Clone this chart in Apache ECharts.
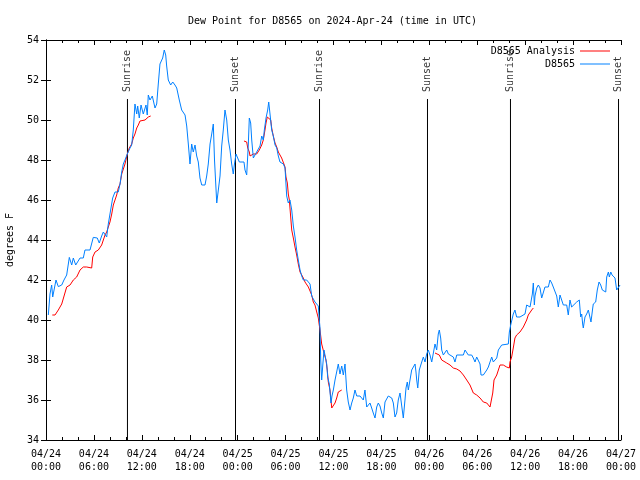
<!DOCTYPE html>
<html><head><meta charset="utf-8">
<script src="https://cdn.jsdelivr.net/npm/echarts@6/dist/echarts.min.js"></script>
<style>html,body{margin:0;padding:0;background:#fff}#c{width:640px;height:480px}</style>
</head><body><div id="c"></div>
<script>
// x axis: hours since 2024-04-24 00:00 UTC
const xTickLabels = ['04/24\n00:00','04/24\n06:00','04/24\n12:00','04/24\n18:00',
  '04/25\n00:00','04/25\n06:00','04/25\n12:00','04/25\n18:00',
  '04/26\n00:00','04/26\n06:00','04/26\n12:00','04/26\n18:00','04/27\n00:00'];

const sunHours = [10.2, 23.73, 34.25, 47.77, 58.16, 71.69];
const sunLabels = ['Sunrise','Sunset','Sunrise','Sunset','Sunrise','Sunset'];

const blueHours = [
 0.29,0.50,0.71,0.84,1.25,1.54,1.97,2.25,2.59,2.92,
 3.22,3.42,3.72,4.26,4.67,4.88,5.51,5.92,6.42,6.67,
 6.97,7.18,7.60,7.80,8.01,8.35,8.64,9.05,9.27,9.48,
 9.68,9.89,10.18,10.52,10.73,10.93,11.14,11.36,11.48,11.68,
 11.90,12.18,12.52,12.68,12.81,13.02,13.31,13.65,13.86,14.06,
 14.27,14.61,14.81,14.99,15.11,15.31,15.61,15.87,16.15,16.37,
 16.69,16.99,17.41,17.62,17.82,18.03,18.24,18.44,18.66,18.87,
 19.07,19.28,19.50,19.91,20.12,20.32,20.54,20.75,20.95,21.10,
 21.38,21.58,21.79,22.00,22.20,22.41,22.63,22.83,23.04,23.25,
 23.45,23.58,23.79,23.95,24.21,24.79,24.92,25.13,25.33,25.46,
 25.63,25.76,25.96,26.17,26.38,26.58,26.80,27.01,27.21,27.34,
 27.55,27.76,27.89,28.05,28.26,28.46,28.68,28.89,29.09,29.30,
 29.51,29.72,29.93,30.05,30.14,30.34,30.55,30.77,30.97,31.18,
 31.39,31.59,31.81,32.02,32.22,32.43,32.64,32.85,33.06,33.27,
 33.47,33.68,33.90,34.10,34.22,34.31,34.40,34.52,34.65,34.81,
 35.06,35.15,35.27,35.47,35.69,35.81,35.98,36.19,36.40,36.60,
 36.81,37.03,37.23,37.44,37.65,37.85,38.07,38.28,38.48,38.69,
 38.91,39.11,39.32,39.53,39.73,39.94,40.16,40.36,40.57,40.78,
 40.98,41.20,41.41,41.61,41.82,42.04,42.24,42.45,42.66,42.86,
 43.08,43.29,43.49,43.70,43.91,44.11,44.33,44.54,44.74,44.95,
 45.08,45.24,45.37,45.58,45.79,45.99,46.21,46.33,46.42,46.55,
 46.74,47.05,47.25,47.46,47.67,47.87,48.08,48.30,48.50,48.71,
 48.92,49.12,49.25,49.42,49.55,49.75,49.96,50.18,50.38,50.59,
 51.00,51.21,51.43,52.26,52.47,52.68,52.88,53.30,53.51,53.72,
 53.93,54.13,54.35,54.47,54.76,54.97,55.19,55.39,55.60,55.81,
 56.01,56.22,56.44,56.64,56.85,57.06,57.26,57.89,58.02,58.19,
 58.51,58.72,58.93,59.35,59.98,60.19,60.39,60.61,60.82,60.90,
 61.02,61.15,61.23,61.45,61.65,61.86,62.07,62.27,62.48,62.90,
 63.11,63.32,63.52,63.74,63.95,64.15,64.36,64.57,64.78,65.20,
 65.40,65.61,65.82,66.03,66.45,66.78,66.95,67.08,67.20,67.28,
 67.49,67.70,67.91,68.12,68.24,68.46,68.53,68.83,69.03,69.25,
 69.46,69.66,69.87,70.09,70.21,70.42,70.54,70.72,70.88,71.04,
 71.25,71.46,71.66,71.88];
const blueDewPoints = [
 40.25,41.3,41.75,41.15,42.0,41.67,41.75,42.0,42.25,43.13,
 42.75,43.1,42.75,43.1,43.1,43.5,43.5,44.13,44.1,43.85,
 44.2,44.4,44.15,44.8,44.9,46.1,46.4,46.4,46.8,47.4,
 47.8,48.0,48.3,48.6,48.75,49.5,50.8,50.3,50.7,50.1,
 50.75,50.3,50.75,50.25,51.25,51.0,51.2,50.6,50.8,51.8,
 52.8,53.1,53.5,53.25,52.7,52.0,51.75,51.9,51.75,51.6,
 51.0,50.5,50.25,49.7,48.8,47.8,48.8,48.4,48.75,48.2,
 47.9,47.1,46.75,46.75,47.2,47.8,48.8,49.3,49.8,48.0,
 45.85,46.5,47.2,48.7,49.5,50.5,50.0,49.0,48.5,47.8,
 47.3,47.75,48.3,48.4,47.9,47.9,47.5,47.25,48.75,50.1,
 49.85,49.0,48.1,48.2,48.4,48.3,48.7,49.2,49.0,49.5,
 50.1,50.5,50.9,50.3,49.5,49.2,48.75,48.6,48.2,47.9,
 48.0,47.8,47.6,46.8,46.2,45.85,46.0,45.5,44.7,44.15,
 43.5,43.0,42.5,42.2,42.0,42.1,42.0,41.9,41.8,41.2,
 41.1,40.9,40.8,40.7,40.0,39.6,38.0,37.0,37.7,38.5,
 38.5,37.8,37.15,36.8,35.85,36.2,36.5,37.0,37.1,37.8,
 37.3,37.7,37.25,37.8,36.5,35.9,35.5,35.85,36.1,36.5,
 36.2,36.25,36.2,36.25,36.0,36.5,35.65,35.75,35.85,35.6,
 35.35,35.1,35.65,35.85,35.7,35.35,35.1,35.9,36.0,36.2,
 36.25,36.1,35.85,35.15,35.35,36.0,36.35,36.35,35.1,36.0,
 36.6,36.9,36.5,37.0,37.5,37.5,37.8,37.4,37.0,36.6,
 37.5,37.9,38.15,37.9,38.3,38.5,38.25,37.9,37.9,38.8,
 38.5,39.3,39.5,39.1,38.5,38.25,38.3,38.5,38.3,38.25,
 38.15,37.9,38.25,38.25,38.5,38.5,38.25,38.25,38.1,37.9,
 38.15,38.25,37.8,37.25,37.25,37.35,37.5,37.65,37.9,38.15,
 37.9,37.8,38.1,38.5,38.6,38.75,38.8,38.8,39.4,39.75,
 40.3,40.5,40.15,40.15,40.3,40.75,40.75,40.65,40.6,41.3,
 41.85,40.75,41.2,41.6,41.75,41.6,41.1,41.1,41.65,41.65,
 42.0,41.85,41.65,41.65,41.2,40.65,41.25,41.0,40.75,40.75,
 40.25,41.0,40.65,40.75,40.9,41.0,40.15,40.3,39.8,39.6,
 40.15,40.3,40.5,40.5,39.9,40.6,40.8,40.9,41.5,41.9,
 41.75,41.5,41.4,41.4,42.15,42.4,42.15,42.4,42.25,42.15,
 42.1,41.5,41.6,41.75];

const analysisHours1 = [0.79,1.13,1.54,1.97,2.17,2.59,3.01,3.42,3.84,4.26,
 4.67,5.10,5.72,5.85,6.14,6.55,6.76,6.97,7.18,7.39,
 7.60,7.80,8.01,8.23,8.43,8.64,8.85,9.05,9.27,9.48,
 9.89,10.18,10.43,10.73,10.93,11.14,11.36,11.56,11.77,11.98,
 12.40,12.61,12.81,13.11];
const analysisValues1 = [40.25,40.25,40.5,40.8,40.9,41.65,41.75,42.0,42.15,42.5,
 42.65,42.65,42.6,43.15,43.4,43.5,43.6,43.75,44.0,44.25,
 44.4,44.65,44.9,45.3,45.75,46.0,46.25,46.6,46.8,47.3,
 47.8,48.3,48.6,48.8,49.1,49.3,49.6,49.75,49.95,50.0,
 50.0,50.1,50.15,50.2];
const analysisHours2 = [24.79,25.13,25.26,25.46,25.55,25.76,25.96,26.38,26.71,27.01,
 27.21,27.42,27.55,27.71,27.92,28.14,28.26,28.46,28.68,28.89,
 29.09,29.30,29.51,29.72,29.93,30.05,30.22,30.34,30.47,30.64,
 30.77,30.97,31.18,31.39,31.59,31.81,32.02,32.22,32.43,32.64,
 32.85,33.06,33.27,33.47,33.68,33.90,34.10,34.18,34.31,34.52,
 34.81,35.06,35.22,35.35,35.56,35.78,35.98,36.19,36.40,36.60,
 36.81,37.03];
const analysisValues2 = [48.95,48.9,48.6,48.4,48.2,48.2,48.3,48.3,48.5,48.75,
 49.0,49.5,49.85,50.15,50.25,50.0,49.6,49.2,48.85,48.65,
 48.4,48.25,48.1,48.0,47.65,47.15,46.85,46.3,46.0,45.15,
 44.5,44.1,43.65,43.25,42.8,42.4,42.25,42.1,41.9,41.8,
 41.65,41.6,41.25,40.9,40.75,40.4,40.1,39.85,39.5,38.8,
 38.35,38.0,37.5,36.9,36.5,35.6,35.6,35.85,36.1,36.4,
 36.5,36.5];
const analysisHours3 = [48.71,48.92,49.25,49.55,49.75,50.18,50.59,51.00,51.43,51.84,
 52.26,52.68,53.09,53.51,53.93,54.35,54.76,55.19,55.60,55.81,
 55.94,56.10,56.44,56.85,57.26,57.68,58.02,58.10,58.31,58.51,
 58.72,58.93,59.35,59.77,60.19,60.39,60.82,61.02];
const analysisValues3 = [38.35,38.3,38.25,38.0,37.9,37.85,37.75,37.6,37.55,37.45,
 37.25,37.0,36.75,36.35,36.25,36.1,35.9,35.85,35.65,35.6,
 36.35,37.0,37.25,37.75,37.75,37.65,37.6,37.9,38.15,38.6,
 39.1,39.25,39.4,39.65,40.0,40.25,40.5,40.6];

const FONT = 'DejaVu Sans Mono';
const zip = (h, v) => h.map((t, i) => [t, v[i]]);
const analysisData = [].concat(
  zip(analysisHours1, analysisValues1), [['-','-']],
  zip(analysisHours2, analysisValues2), [['-','-']],
  zip(analysisHours3, analysisValues3));

const sunLineSeries = sunHours.map(t => ({
  type: 'line', data: [[t, 34], [t, 51.05]], symbol: 'none', silent: true,
  lineStyle: { color: '#000', width: 1 }, z: 1, animation: false
}));

const LEGEND_ICON = 'path://M0,0H30V1H0Z';
const chart = echarts.init(document.getElementById('c'), null, { renderer: 'canvas' });
const tickStyle = { show: true, inside: true, length: 5, lineStyle: { color: '#000' } };
chart.setOption({
  animation: false,
  backgroundColor: '#fff',
  title: { text: 'Dew Point for D8565 on 2024-Apr-24 (time in UTC)', left: 183, top: 11,
    textStyle: { fontFamily: FONT, fontSize: 10, fontWeight: 'normal', color: '#000' } },
  legend: {
    data: [{ name: 'D8565 Analysis', icon: LEGEND_ICON }, { name: 'D8565', icon: LEGEND_ICON }],
    orient: 'vertical', right: 25, top: 41,
    align: 'right', itemWidth: 30, itemHeight: 12, itemGap: 3, symbolKeepAspect: true,
    textStyle: { fontFamily: FONT, fontSize: 10, color: '#000' }
  },
  grid: { left: 46, right: 19, top: 40, bottom: 40, show: false, outerBoundsMode: 'none', containLabel: false },
  xAxis: [{
    type: 'value', min: 0, max: 72, interval: 6,
    axisLine: { show: true, lineStyle: { color: '#000' } },
    axisTick: tickStyle,
    minorTick: { show: true, splitNumber: 3, length: 3, lineStyle: { color: '#000' } },
    splitLine: { show: false },
    axisLabel: { fontFamily: FONT, fontSize: 10, color: '#000', lineHeight: 13, margin: 8,
      showMinLabel: true, showMaxLabel: true,
      formatter: v => xTickLabels[Math.round(v / 6)] }
  }, {
    type: 'value', min: 0, max: 72, interval: 6, position: 'top',
    axisLine: { show: true, lineStyle: { color: '#000' } },
    axisTick: tickStyle,
    minorTick: { show: true, splitNumber: 3, length: 3, lineStyle: { color: '#000' } },
    splitLine: { show: false }, axisLabel: { show: false }
  }],
  yAxis: [{
    type: 'value', min: 34, max: 54, interval: 2,
    name: 'degrees F', nameLocation: 'middle', nameRotate: 90, nameGap: 31,
    nameTextStyle: { fontFamily: FONT, fontSize: 10, color: '#000' },
    axisLine: { show: true, lineStyle: { color: '#000' } },
    axisTick: tickStyle, splitLine: { show: false },
    axisLabel: { fontFamily: FONT, fontSize: 10, color: '#000', margin: 7 }
  }, {
    type: 'value', min: 34, max: 54, interval: 2, position: 'right',
    axisLine: { show: true, lineStyle: { color: '#000' } },
    axisTick: tickStyle, splitLine: { show: false }, axisLabel: { show: false }
  }],
  series: [
    ...sunLineSeries,
    {
      type: 'scatter', symbolSize: 0, silent: true, z: 3,
      data: sunHours.map((t, i) => ({ value: [t, 51.4], label: { formatter: sunLabels[i] } })),
      label: { show: true, position: 'top', distance: 0, rotate: 90, align: 'left',
        verticalAlign: 'middle', fontFamily: FONT, fontSize: 10, color: '#000' }
    },
    {
      name: 'D8565 Analysis', type: 'line', data: analysisData, symbol: 'none',
      connectNulls: false, lineStyle: { color: '#ff0000', width: 1 }, itemStyle: { color: '#ff0000' }, z: 4
    },
    {
      name: 'D8565', type: 'line', data: zip(blueHours, blueDewPoints), symbol: 'none',
      lineStyle: { color: '#0080ff', width: 1 }, itemStyle: { color: '#0080ff' }, z: 5
    }
  ]
});
</script></body></html>
